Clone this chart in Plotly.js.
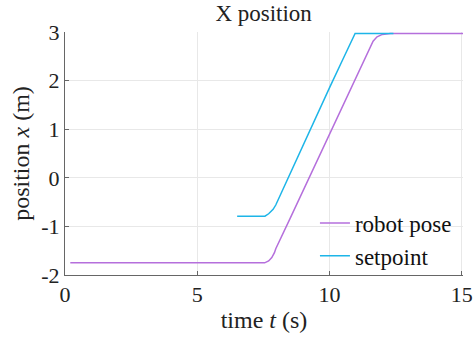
<!DOCTYPE html>
<html><head><meta charset="utf-8">
<script src="https://cdn.plot.ly/plotly-3.0.1.min.js"></script>
<style>body{margin:0;background:#fff}#c{width:475px;height:338px}</style>
</head><body><div id="c"></div>
<script>
const robotT = [0.2, 3, 6, 7.55, 7.7, 7.82, 7.92, 7.97, 8.5, 9.0, 9.7, 10.5, 11.0, 11.3, 11.47, 11.55, 11.65, 11.8, 12.0, 12.3, 13.5, 15.1];
const robotX = [-1.75, -1.75, -1.75, -1.75, -1.71, -1.64, -1.54, -1.46, -0.85, -0.27, 0.56, 1.49, 2.06, 2.41, 2.6, 2.7, 2.81, 2.9, 2.95, 2.97, 2.97, 2.97];
const setT = [6.51, 7.0, 7.56, 7.7, 7.87, 7.97, 8.5, 8.91, 9.5, 10.0, 10.5, 10.97, 11.7, 12.42];
const setX = [-0.79, -0.79, -0.79, -0.74, -0.65, -0.56, 0.07, 0.58, 1.27, 1.85, 2.43, 2.97, 2.97, 2.97];
const xTicks = [0, 5, 10, 15];
const yTicks = [-2, -1, 0, 1, 2, 3];
const serif = 'Liberation Serif, DejaVu Serif, serif';
const data = [
  {x: robotT, y: robotX, mode: 'lines', name: 'robot pose', line: {color: '#B56FDC', width: 1.5}},
  {x: setT, y: setX, mode: 'lines', name: 'setpoint', line: {color: '#1DB5E8', width: 1.5}}
];
const axCommon = {
  showgrid: true, gridcolor: '#e8e8e8', gridwidth: 1,
  showline: true, linecolor: '#666', linewidth: 1,
  ticks: 'inside', ticklen: 4, tickcolor: '#666',
  zeroline: false, tickfont: {family: serif, size: 22, color: '#222'}
};
const layout = {
  width: 475, height: 338,
  margin: {l: 65, r: 12, t: 32, b: 63},
  paper_bgcolor: '#fff', plot_bgcolor: '#fff',
  font: {family: serif, color: '#222'},
  title: {text: 'X position', font: {family: serif, size: 23, color: '#222'}, x: 0.555, xanchor: 'center', y: 0.985, yanchor: 'top'},
  xaxis: Object.assign({}, axCommon, {range: [0, 15.05], tickvals: xTicks, ticktext: xTicks.map(String),
    title: {text: 'time <i>t</i> (s)', font: {family: serif, size: 24, color: '#222'}, standoff: 4}}),
  yaxis: Object.assign({}, axCommon, {range: [-2, 3], tickvals: yTicks, ticktext: yTicks.map(String),
    title: {text: 'position <i>x</i> (m)', font: {family: serif, size: 24, color: '#222'}, standoff: 4}}),
  showlegend: true,
  legend: {x: 0.628, xanchor: 'left', y: -0.01, yanchor: 'bottom', bgcolor: 'rgba(255,255,255,0)',
    font: {family: serif, size: 23, color: '#111'}, itemwidth: 30, tracegroupgap: 0}
};
Plotly.newPlot('c', data, layout, {displayModeBar: false, staticPlot: true});
</script></body></html>
